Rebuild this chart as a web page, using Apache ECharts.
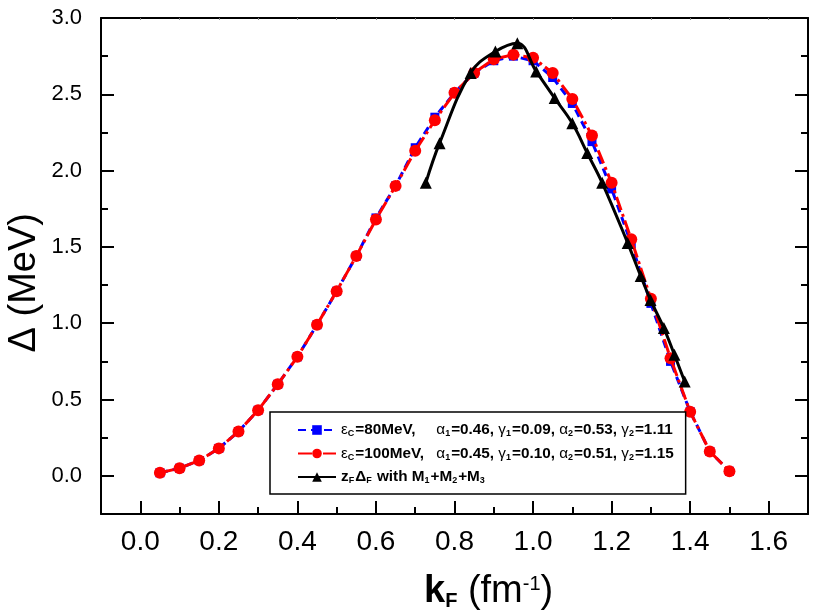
<!DOCTYPE html>
<html><head><meta charset="utf-8">
<script src="https://cdn.jsdelivr.net/npm/echarts@6/dist/echarts.min.js"></script>
<style>html,body{margin:0;padding:0;background:#fff}#c{width:817px;height:616px}</style>
</head><body><div id="c"></div>
<script>
// ---- data ----
const kF = [0.05,0.10,0.15,0.20,0.25,0.30,0.35,0.40,0.45,0.50,0.55,0.60,0.65,0.70,0.75,0.80,0.85,0.90,0.95,1.00,1.05,1.10,1.15,1.20,1.25,1.30,1.35,1.40,1.45,1.50];
const delta80 = [0.02,0.05,0.10,0.18,0.29,0.43,0.60,0.78,0.99,1.21,1.44,1.69,1.90,2.15,2.35,2.51,2.64,2.72,2.75,2.72,2.61,2.44,2.19,1.88,1.52,1.13,0.75,0.42,0.16,0.03];
const delta100 = [0.02,0.05,0.10,0.18,0.29,0.43,0.60,0.78,0.99,1.21,1.44,1.68,1.90,2.13,2.33,2.51,2.64,2.73,2.76,2.74,2.64,2.47,2.23,1.92,1.55,1.16,0.77,0.42,0.16,0.03];
const kZ = [0.727,0.762,0.841,0.904,0.960,1.008,1.055,1.100,1.138,1.176,1.241,1.274,1.299,1.333,1.360,1.386];
const deltaZ = [1.92,2.18,2.64,2.78,2.835,2.65,2.475,2.31,2.115,1.92,1.525,1.31,1.153,0.968,0.793,0.618];
const xMajor = [0.0,0.2,0.4,0.6,0.8,1.0,1.2,1.4,1.6];
const xMinor = [0.1,0.3,0.5,0.7,0.9,1.1,1.3,1.5];
const yMajor = [0.0,0.5,1.0,1.5,2.0,2.5,3.0];
const yMinor = [0.25,0.75,1.25,1.75,2.25,2.75];
const seriesNames = ['εC=80MeV, α1=0.46, γ1=0.09, α2=0.53, γ2=1.11',
                     'εC=100MeV, α1=0.45, γ1=0.10, α2=0.51, γ2=1.15',
                     'zFΔF with M1+M2+M3'];
const legendRich = {};
legendRich[seriesNames[0]] = '{g|ε}{s|C}{h|=80MeV,}{g|α}{s|1}{t|=0.46, }{g|γ}{s|1}{t|=0.09, }{g|α}{s|2}{t|=0.53, }{g|γ}{s|2}{t|=1.11}';
legendRich[seriesNames[1]] = '{g|ε}{s|C}{h|=100MeV,}{g|α}{s|1}{t|=0.45, }{g|γ}{s|1}{t|=0.10, }{g|α}{s|2}{t|=0.51, }{g|γ}{s|2}{t|=1.15}';
legendRich[seriesNames[2]] = '{t|z}{s|F}{t|Δ}{s|F}{t| with M}{s|1}{t|+M}{s|2}{t|+M}{s|3}';

function pairs(xs, ys){ return xs.map((x,i)=>[x, ys[i]]); }

const chart = echarts.init(document.getElementById('c'), null, {renderer:'canvas'});
const AX = {min:-0.1, max:1.7};
const AY = {min:-0.25, max:3.0};
const lineS = {onZero:false, lineStyle:{color:'#000', width:2}};
const noLine = {show:false, onZero:false};
const FONT = 'Liberation Sans, Arial, sans-serif';

const option = {
  animation:false,
  backgroundColor:'#fff',
  grid:{left:101, right:9, top:18, bottom:102},
  xAxis:[
    Object.assign({type:'value', position:'bottom', axisLine:lineS, splitLine:{show:false},
      axisTick:{inside:true, length:13, lineStyle:{width:2,color:'#000'}, customValues:xMajor},
      axisLabel:{customValues:xMajor, formatter:v=>v.toFixed(1), fontFamily:'Liberation Sans Narrow, Arial Narrow, sans-serif', fontSize:28, color:'#000', margin:14}}, AX),
    Object.assign({type:'value', position:'bottom', axisLine:noLine, splitLine:{show:false},
      axisTick:{inside:true, length:7, lineStyle:{width:2,color:'#000'}, customValues:xMinor},
      axisLabel:{show:false}}, AX),
    Object.assign({type:'value', position:'top', axisLine:lineS, splitLine:{show:false},
      axisTick:{inside:true, length:2, lineStyle:{width:1,color:'#888'}, customValues:xMajor.concat(xMinor)},
      axisLabel:{show:false}}, AX)
  ],
  yAxis:[
    Object.assign({type:'value', position:'left', axisLine:lineS, splitLine:{show:false},
      axisTick:{inside:true, length:13, lineStyle:{width:2,color:'#000'}, customValues:yMajor},
      axisLabel:{customValues:yMajor, formatter:v=>v.toFixed(1), fontFamily:FONT, fontSize:22, color:'#000', margin:19}}, AY),
    Object.assign({type:'value', position:'left', axisLine:noLine, splitLine:{show:false},
      axisTick:{inside:true, length:7, lineStyle:{width:2,color:'#000'}, customValues:yMinor},
      axisLabel:{show:false}}, AY),
    Object.assign({type:'value', position:'right', axisLine:lineS, splitLine:{show:false},
      axisTick:{inside:true, length:13, lineStyle:{width:2,color:'#000'}, customValues:yMajor},
      axisLabel:{show:false}}, AY),
    Object.assign({type:'value', position:'right', axisLine:noLine, splitLine:{show:false},
      axisTick:{inside:true, length:7, lineStyle:{width:2,color:'#000'}, customValues:yMinor},
      axisLabel:{show:false}}, AY)
  ],
  legend:{
    orient:'vertical', left:270, top:412,
    padding:[8,12,7,27], itemGap:3.5, itemWidth:38, itemHeight:12,
    borderColor:'#000', borderWidth:1.5, backgroundColor:'#fff',
    data:seriesNames,
    formatter:name=>legendRich[name],
    textStyle:{
      color:'#000', lineHeight:20,
      rich:{
        t:{fontFamily:FONT, fontWeight:'bold', fontSize:15.3, color:'#000', lineHeight:20},
        h:{fontFamily:FONT, fontWeight:'bold', fontSize:15.3, color:'#000', lineHeight:20, width:81},
        g:{fontFamily:FONT, fontSize:15.3, color:'#000', lineHeight:20},
        s:{fontFamily:FONT, fontWeight:'bold', fontSize:9, color:'#000', lineHeight:9, padding:[8,1,0,0]}
      }
    }
  },
  graphic:[
    {type:'text', left:6, top:213, rotation:Math.PI/2, style:{text:'Δ (MeV)', font:'38px Liberation Sans, Arial, sans-serif', fill:'#000'}},
    {type:'text', left:424, top:573, style:{
      text:'{k|k}{s|F}{r| (fm}{p|-1}{r|)}',
      rich:{
        k:{fontFamily:FONT, fontWeight:'bold', fontSize:38, fill:'#000'},
        s:{fontFamily:FONT, fontWeight:'bold', fontSize:20, fill:'#000', padding:[18,0,0,0]},
        r:{fontFamily:FONT, fontSize:38, fill:'#000'},
        p:{fontFamily:FONT, fontSize:20, fill:'#000', padding:[0,0,16,0]}
      }}}
  ],
  series:[
    {name:seriesNames[0], type:'line', data:pairs(kF, delta80), xAxisIndex:0, yAxisIndex:0,
      symbol:'rect', symbolSize:9, z:2,
      lineStyle:{color:'#0000ff', width:3, type:[8,5]}, itemStyle:{color:'#0000ff'}},
    {name:seriesNames[1], type:'line', data:pairs(kF, delta100), xAxisIndex:0, yAxisIndex:0,
      symbol:'circle', symbolSize:12, z:3,
      lineStyle:{color:'#ff0000', width:3, type:[14,4,3,4]}, itemStyle:{color:'#ff0000'}},
    {name:seriesNames[2], type:'line', data:pairs(kZ, deltaZ), xAxisIndex:0, yAxisIndex:0,
      symbol:'triangle', symbolSize:12, smooth:0.4, z:4,
      lineStyle:{color:'#000', width:3}, itemStyle:{color:'#000'}}
  ]
};
chart.setOption(option);
</script></body></html>
